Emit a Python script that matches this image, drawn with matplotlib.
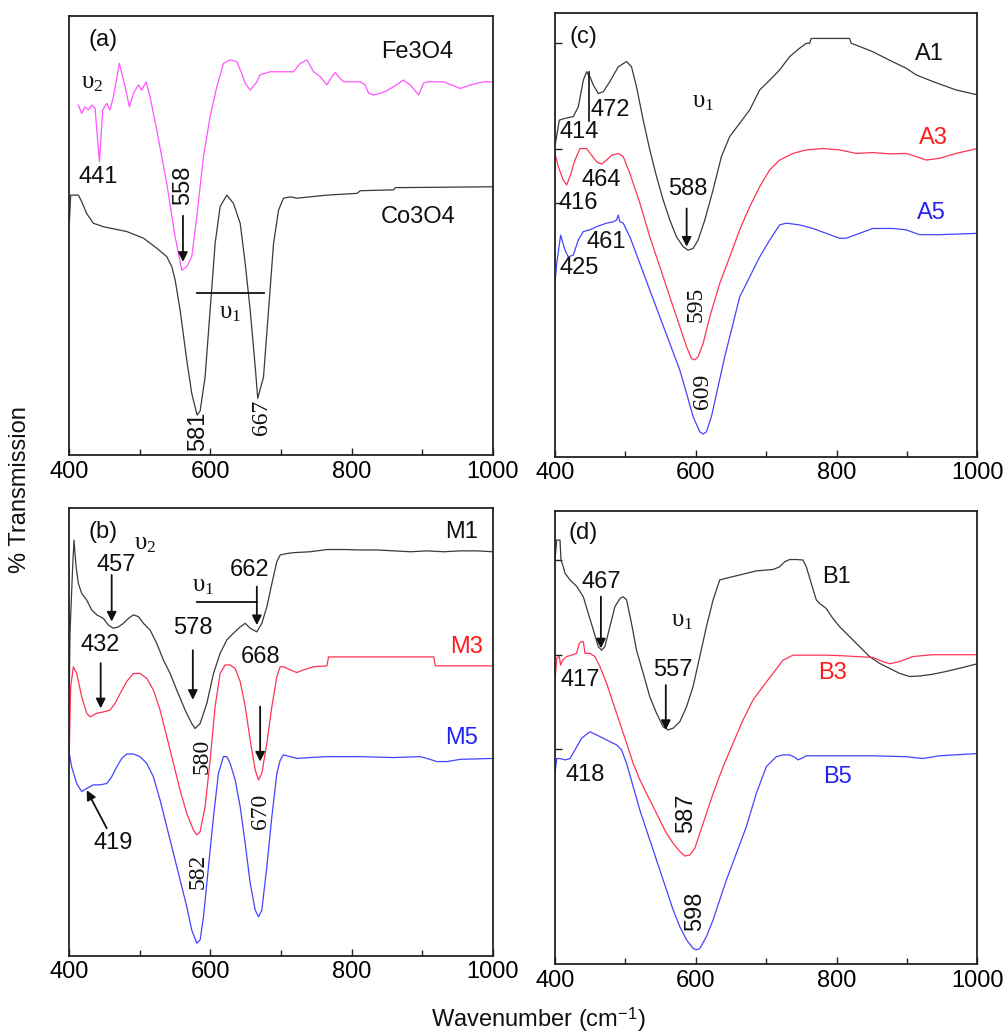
import matplotlib
matplotlib.use("Agg")
import matplotlib.pyplot as plt

plt.rcParams['font.family'] = ['Liberation Sans', 'DejaVu Sans']
plt.rcParams['mathtext.fontset'] = 'custom'
plt.rcParams['mathtext.rm'] = 'Liberation Serif'
plt.rcParams['mathtext.it'] = 'Liberation Serif:italic'
plt.rcParams['mathtext.sf'] = 'Liberation Sans'

# ---------------- data (wavenumber cm-1, % transmission, arbitrary offset) -------------
fe3o4_wn = [412.8, 417.5, 422.2, 427, 431.7, 436.4, 442.6, 447.3, 453, 457.7, 462.4, 470.9, 479,
            485.1, 490.8, 497.9, 502.6, 508.7, 514.4, 523.9, 538, 549.9, 559.3, 566.4, 573.5,
            580.6, 590.1, 599.5, 609, 618.4, 627.9, 637.3, 644.4, 649.2, 656.3, 665.7, 670.4,
            684.6, 717.7, 727.2, 736.6, 746.1, 755.5, 765, 772.1, 776.8, 781.6, 788.7, 812.3,
            819.4, 824.1, 831.2, 840.7, 847.7, 859.6, 873.7, 883.2, 895, 902.1, 906.8, 930.5,
            954.1, 968.3, 987.2, 1000]
fe3o4_t = [79.7, 77.8, 79.3, 78.6, 79.7, 79.0, 66.8, 78.6, 80.1, 78.6, 81.6, 89.2, 83.9,
           79.3, 82.4, 84.3, 83.1, 85.0, 81.6, 74.0, 61.9, 49.7, 42.1, 42.9, 45.2,
           54.3, 68.0, 77.1, 83.9, 89.2, 90.0, 89.6, 86.9, 84.7, 83.1, 85.0, 86.6,
           87.3, 87.3, 89.2, 90.0, 87.3, 86.2, 84.3, 86.2, 87.1, 86.2, 85.0, 85.0,
           84.3, 82.4, 82.0, 82.4, 82.8, 83.9, 85.4, 84.3, 82.0, 84.7, 85.0, 85.0,
           83.5, 84.3, 85.0, 85.0]

co3o4_wn = [400, 401.9, 412.8, 417.5, 424.6, 434, 448.2, 481.3, 505, 523.9, 538, 545.2, 549.9,
            557, 566.4, 573.5, 581, 585.3, 592.4, 599.5, 606.6, 613.7, 623.2, 632.6, 642.1,
            649.2, 656.3, 663.4, 667, 675.2, 682.3, 689.4, 696.5, 703.5, 713, 722.4, 765,
            807.6, 812.3, 859.6, 861.9, 1000]
co3o4_t = [53.0, 59.2, 59.2, 57.7, 55.0, 52.8, 52.0, 50.9, 49.4, 47.1, 45.2, 42.9, 39.9,
           33.0, 21.6, 14.0, 9.1, 10.0, 17.8, 33.0, 48.2, 56.6, 59.2, 57.3, 52.8,
           43.7, 33.0, 20.1, 12.9, 17.8, 33.0, 48.2, 55.8, 58.5, 58.8, 58.5, 59.2,
           59.6, 60.2, 60.4, 60.9, 61.1]

a1_wn = [400, 406.1, 414.2, 426, 433.1, 440.2, 444.9, 447.3, 449.6, 454.4, 461.5, 468.6, 478,
         489.8, 501.7, 508.7, 515.8, 525.3, 534.7, 544.2, 553.7, 563.1, 572.6, 582, 589.1,
         596.2, 603.3, 612.8, 624.6, 636.4, 648.2, 662.4, 676.6, 690.8, 705, 719.1, 733.3,
         747.5, 757, 761.7, 764, 818.4, 820.8, 827.9, 851.5, 875.2, 898.8, 913, 936.6,
         969.7, 1000]
a1_t = [70.0, 75.8, 76.2, 76.6, 78.8, 84.8, 86.7, 86.0, 85.6, 83.7, 81.8, 82.2, 84.5,
        87.8, 89.0, 87.8, 83.3, 75.8, 69.1, 63.1, 57.8, 53.3, 49.5, 47.3, 46.5,
        46.9, 48.8, 53.3, 60.1, 67.6, 72.1, 75.1, 78.1, 82.6, 84.8, 87.1, 90.1,
        92.0, 93.1, 93.1, 94.2, 94.2, 93.1, 92.7, 91.2, 89.3, 87.5, 86.0, 84.5,
        82.6, 81.5]

a3_wn = [400, 404.7, 411.8, 416.5, 421.3, 428.4, 435.5, 444.9, 452, 459.1, 466.2, 473.3,
         480.4, 489.8, 496.9, 506.4, 520.6, 534.7, 548.9, 563.1, 577.3, 586.8, 593.8, 598.6,
         603.3, 610.4, 619.9, 634, 648.2, 662.4, 676.6, 690.8, 705, 719.1, 738, 757, 780.6,
         804.2, 827.9, 851.5, 875.2, 898.8, 913, 927.2, 946.1, 969.7, 1000]
a3_t = [68.3, 65.3, 62.3, 61.2, 63.1, 66.8, 69.4, 69.4, 67.9, 66.4, 65.9, 66.8,
        67.9, 68.3, 67.6, 63.8, 57.1, 49.5, 42.8, 36.0, 29.3, 24.8, 22.1, 21.8,
        22.5, 25.5, 31.5, 39.0, 45.0, 51.1, 56.3, 60.8, 64.6, 66.8, 68.3, 69.1, 69.4,
        69.1, 68.3, 68.5, 68.2, 68.3, 67.6, 66.8, 67.2, 68.3, 69.4]

a5_wn = [400, 402.4, 408, 414.2, 418.9, 426, 433.1, 440.2, 449.6, 459.1, 473.3, 482.7, 487.5,
         489.8, 492.2, 496.9, 506.4, 520.6, 534.7, 548.9, 563.1, 577.3, 586.8, 596.2, 605.7,
         610.4, 615.1, 622.2, 631.7, 641.1, 650.6, 662.4, 671.9, 681.3, 690.8, 705, 719.1,
         728.6, 747.5, 766.4, 785.3, 804.2, 813.7, 832.6, 851.5, 879.9, 898.8, 917.7, 946.1,
         1000]
a5_t = [39.0, 43.5, 49.9, 46.5, 45.0, 45.4, 48.8, 50.7, 51.1, 51.8, 52.6, 52.9, 53.3,
        54.4, 52.9, 52.6, 49.5, 43.5, 37.5, 31.5, 25.5, 19.5, 14.3, 9.0, 5.6,
        5.1, 5.6, 9.0, 15.8, 22.5, 28.5, 36.0, 39.0, 42.0, 45.0, 48.8, 52.2,
        52.6, 52.2, 51.4, 50.3, 49.2, 49.2, 50.3, 51.4, 51.4, 51.1, 50.0, 50.0,
        50.3]

m1_wn = [400, 400.9, 404.7, 406.6, 409.5, 412.8, 417.5, 424.6, 431.7, 438.8, 448.2, 455.3,
         462.4, 469.5, 476.6, 483.7, 490.8, 497.9, 505, 514.4, 523.9, 533.3, 542.8, 552.2,
         564.1, 573.5, 578.2, 585.3, 594.8, 604.3, 613.7, 623.2, 632.6, 642.1, 649.2, 656.3,
         665.7, 672.8, 679.9, 687, 694.1, 698.8, 708.3, 717.7, 741.4, 765, 788.7, 812.3,
         835.9, 859.6, 883.2, 906.8, 930.5, 954.1, 977.8, 1000]
m1_t = [60.0, 72.1, 87.0, 92.9, 87.0, 83.2, 81.0, 79.5, 77.3, 76.2, 75.4, 73.9,
        73.2, 73.5, 74.3, 75.4, 76.2, 75.8, 74.3, 72.8, 69.8, 66.1, 63.1, 59.4,
        54.9, 51.9, 50.8, 51.9, 56.4, 63.1, 67.6, 70.6, 72.1, 73.5, 74.3, 73.2,
        72.4, 74.3, 78.0, 83.2, 88.1, 89.6, 89.9, 90.1, 90.3, 90.8, 90.8, 90.7,
        90.7, 90.5, 90.3, 90.5, 90.3, 90.5, 90.5, 90.3]

m3_wn = [400, 401.9, 405.7, 410.4, 417.5, 424.6, 429.3, 438.8, 448.2, 457.7, 464.8, 471.9,
         481.3, 490.8, 500.2, 509.7, 519.1, 528.6, 538.1, 547.5, 557, 566.4, 575.9, 580.6,
         585.3, 592.4, 599.5, 606.6, 613.7, 620.8, 627.9, 635, 642.1, 649.2, 656.3, 663.4,
         668.1, 672.8, 679.9, 687, 694.1, 698.8, 703.5, 713, 722.4, 731.9, 746.1, 765,
         767.4, 769.7, 916.3, 918.7, 1000]
m3_t = [46.7, 60.1, 64.6, 63.1, 57.9, 54.2, 53.4, 54.2, 54.5, 54.9, 56.4, 58.6,
        61.3, 63.1, 63.1, 62.0, 59.4, 54.9, 49.0, 43.0, 37.0, 31.8, 28.1, 27.0,
        27.7, 33.3, 43.7, 55.7, 63.1, 65.0, 65.0, 64.2, 61.3, 55.7, 48.2, 41.5,
        39.3, 40.8, 47.5, 55.7, 62.4, 64.6, 64.6, 63.9, 63.3, 63.9, 64.6, 64.8,
        66.8, 66.8, 66.8, 64.8, 64.8]

m5_wn = [400, 403.3, 410.4, 417.5, 424.6, 434, 443.5, 453, 460, 467.1, 474.2, 481.3, 490.8,
         500.2, 509.7, 519.1, 528.6, 538.1, 547.5, 557, 566.4, 573.5, 580.6, 585.3, 590.1,
         597.2, 604.3, 611.3, 618.4, 623.2, 627.9, 635, 642.1, 649.2, 656.3, 663.4, 668.1,
         672.8, 679.9, 687, 694.1, 698.8, 703.5, 713, 722.4, 741.4, 765, 812.3, 859.6,
         897.4, 906.8, 921, 935.2, 954.1, 1000]
m5_t = [45.2, 42.2, 38.5, 36.7, 37.4, 38.2, 38.2, 38.5, 40.0, 42.2, 44.1, 45.1, 45.1,
        44.5, 43.0, 40.0, 34.8, 28.8, 22.9, 16.9, 11.0, 5.7, 2.8, 3.5, 8.7,
        19.9, 31.1, 40.8, 44.5, 44.5, 43.0, 39.3, 33.3, 25.1, 16.2, 10.2, 8.7,
        10.2, 19.9, 31.1, 40.8, 43.7, 44.9, 44.5, 44.1, 44.3, 44.5, 44.5, 44.3,
        44.5, 44.1, 43.4, 43.4, 43.9, 44.1]

b1_wn = [400, 402.4, 407.1, 408.5, 411.8, 414.2, 421.3, 430.7, 440.2, 447.3, 454.4, 461.5,
         466.2, 470.9, 478, 485.1, 492.2, 496.9, 501.7, 508.7, 515.8, 525.3, 534.7, 544.2,
         553.7, 560.8, 567.8, 577.3, 586.8, 596.2, 605.7, 615.1, 624.6, 634, 641.1, 662.4,
         686, 709.7, 719.1, 726.2, 733.3, 742.8, 752.2, 757, 764.1, 771.2, 775.9, 785.3,
         794.8, 804.2, 818.4, 832.6, 846.8, 861, 875.2, 889.4, 903.5, 917.7, 936.6, 955.5,
         974.4, 1000]
b1_t = [89.2, 93.6, 93.6, 89.2, 87.7, 86.3, 84.8, 83.4, 81.1, 77.4, 73.8, 70.1,
        69.3, 70.1, 74.5, 78.9, 80.7, 81.1, 80.4, 75.2, 69.3, 64.2, 59.0, 55.4,
        52.4, 51.7, 52.1, 53.5, 56.8, 61.3, 67.9, 74.5, 80.4, 84.8, 85.1, 85.9,
        86.8, 87.1, 87.7, 88.8, 89.3, 89.3, 89.2, 87.7, 84.0, 80.4, 79.6, 78.5,
        76.3, 74.5, 72.3, 70.1, 67.9, 66.4, 65.3, 64.2, 63.5, 63.6, 64.0, 64.6,
        65.3, 66.3]

b3_wn = [400, 402.4, 406.1, 408, 410.9, 416.5, 423.6, 430.7, 434.5, 437.8, 440.2, 442.6,
         449.6, 456.7, 463.8, 473.3, 482.7, 492.2, 501.7, 511.1, 520.6, 530, 539.5, 548.9,
         558.4, 567.8, 577.3, 584.4, 591.5, 598.6, 605.7, 615.1, 624.6, 638.8, 653, 667.1,
         681.3, 695.5, 709.7, 723.9, 738, 757, 785.3, 804.2, 827.9, 851.5, 865.7, 875.2,
         889.4, 908.3, 936.6, 969.7, 1000]
b3_t = [62.4, 67.5, 67.9, 66.0, 67.1, 67.9, 68.2, 68.6, 70.8, 71.2, 71.2, 68.6,
        68.6, 67.9, 65.7, 62.0, 57.6, 53.2, 48.8, 44.3, 40.7, 37.7, 34.8, 31.8,
        28.9, 26.7, 24.9, 23.9, 24.1, 25.6, 28.9, 33.3, 37.7, 43.6, 48.8, 53.9,
        58.3, 61.3, 64.2, 67.1, 68.2, 68.2, 68.2, 68.1, 67.9, 67.7, 66.8, 66.3,
        66.8, 67.9, 68.3, 68.3, 68.3]

b5_wn = [400, 402.4, 407.1, 414.2, 421.3, 428.4, 437.8, 449.6, 459.1, 473.3, 487.5, 494.6,
         501.7, 511.1, 520.6, 530, 539.5, 548.9, 558.4, 567.8, 577.3, 586.8, 596.2, 600.9,
         605.7, 615.1, 624.6, 634, 643.5, 657.7, 671.9, 686, 700.2, 714.4, 723.9, 733.3,
         740.4, 745.1, 749.9, 757, 780.6, 804.2, 851.5, 898.8, 922.4, 946.1, 1000]
b5_t = [42.1, 45.4, 45.4, 45.1, 45.4, 47.3, 49.9, 51.3, 50.6, 49.5, 48.4, 47.3,
        44.3, 39.2, 34.0, 29.6, 25.2, 20.8, 16.4, 12.0, 8.3, 5.4, 3.5, 3.2,
        3.5, 6.1, 9.8, 14.2, 18.6, 24.5, 30.4, 37.7, 43.6, 45.8, 46.2, 46.2,
        45.7, 45.1, 45.4, 46.0, 46.0, 46.0, 46.0, 45.8, 45.4, 46.0, 46.5]

x_ticks = [400, 600, 800, 1000]
x_minor = [500, 700, 900]

# ---------------- styling ----------------
BLACK = '#3a3a3a'
MAG = '#ff55ff'
RED = '#ff3355'
BLUE = '#4444ff'
RED_T = '#ff1a1a'
BLUE_T = '#2222ee'
LW = 0.9
FS = 17
SERIF = ['Liberation Serif', 'DejaVu Serif']

fig = plt.figure(figsize=(10.08, 10.32), dpi=100)
ax_a = fig.add_axes([0.0688, 0.5591, 0.4200, 0.4254])
ax_c = fig.add_axes([0.5506, 0.5575, 0.4190, 0.4302])
ax_b = fig.add_axes([0.0688, 0.0739, 0.4200, 0.4335])
ax_d = fig.add_axes([0.5506, 0.0656, 0.4190, 0.4392])


def style(ax, yticks=()):
    ax.set_xlim(400, 1000)
    ax.set_ylim(0, 100)
    ax.set_xticks(x_ticks)
    ax.set_xticks(x_minor, minor=True)
    ax.set_yticks(list(yticks))
    ax.set_yticklabels([])
    ax.tick_params(axis='both', which='both', direction='in', top=False, right=False,
                   labelsize=17, width=1.0, color='#222222', pad=4)
    ax.tick_params(axis='both', which='major', length=5)
    ax.tick_params(axis='both', which='minor', length=4)
    for s in ax.spines.values():
        s.set_linewidth(1.3)
        s.set_color('#222222')


def txt(ax, x, y, s, color='#111111', size=FS, rot=0, family=None):
    kw = {}
    if family is not None:
        kw['family'] = family
    ax.text(x, y, s, color=color, fontsize=size, rotation=rot, ha='center', va='center', **kw)


def arrow(ax, x0, y0, x1, y1):
    ax.annotate('', xy=(x1, y1), xytext=(x0, y0),
                arrowprops=dict(arrowstyle='-|>', color='#111111', lw=1.3, mutation_scale=14,
                                shrinkA=0, shrinkB=0))


def upsilon(ax, x, y, sub):
    ax.text(x, y, r'$\mathrm{υ}_{%s}$' % sub, fontsize=18, ha='center', va='center',
            color='#111111')


# ---- (a)
style(ax_a)
ax_a.plot(fe3o4_wn, fe3o4_t, color=MAG, lw=LW)
ax_a.plot(co3o4_wn, co3o4_t, color=BLACK, lw=LW)
txt(ax_a, 448, 94.5, '(a)')
txt(ax_a, 893, 91.9, 'Fe3O4')
txt(ax_a, 895, 54.3, 'Co3O4')
upsilon(ax_a, 432, 85.0, '2')
txt(ax_a, 441, 63.4, '441')
txt(ax_a, 561, 61.5, '558', rot=90)
arrow(ax_a, 561, 54.5, 561, 44.0)
ax_a.plot([580.6, 675.2], [37.0, 37.0], color='#111111', lw=1.3)
upsilon(ax_a, 628, 32.6, '1')
txt(ax_a, 583, 5.3, '581', rot=90)
txt(ax_a, 673, 8.5, '667', rot=90, family=SERIF)

# ---- (c)
style(ax_c, yticks=[57.1, 69.4, 93.1])
ax_c.plot(a1_wn, a1_t, color=BLACK, lw=LW)
ax_c.plot(a3_wn, a3_t, color=RED, lw=LW)
ax_c.plot(a5_wn, a5_t, color=BLUE, lw=LW)
txt(ax_c, 440, 94.6, '(c)')
txt(ax_c, 932, 90.8, 'A1')
txt(ax_c, 937, 71.7, 'A3', color=RED_T)
txt(ax_c, 934, 54.8, 'A5', color=BLUE_T)
ax_c.plot([448.7, 448.7], [75.5, 86.7], color='#111111', lw=1.2)
txt(ax_c, 478, 78.1, '472')
txt(ax_c, 435, 73.2, '414')
upsilon(ax_c, 610, 80.0, '1')
txt(ax_c, 466, 62.3, '464')
txt(ax_c, 433, 57.2, '416')
txt(ax_c, 589, 60.4, '588')
arrow(ax_c, 587, 55.9, 587, 47.3)
txt(ax_c, 473, 48.4, '461')
txt(ax_c, 434.5, 42.4, '425')
txt(ax_c, 601, 34.2, '595', rot=90, family=SERIF)
txt(ax_c, 610, 14.6, '609', rot=90, family=SERIF)

# ---- (b)
style(ax_b)
ax_b.plot(m1_wn, m1_t, color=BLACK, lw=LW)
ax_b.plot(m3_wn, m3_t, color=RED, lw=LW)
ax_b.plot(m5_wn, m5_t, color=BLUE, lw=LW)
txt(ax_b, 448, 94.8, '(b)')
upsilon(ax_b, 507, 92.3, '2')
txt(ax_b, 956.5, 94.8, 'M1')
txt(ax_b, 467, 87.3, '457')
arrow(ax_b, 460, 85.1, 460, 74.7)
upsilon(ax_b, 590, 82.9, '1')
ax_b.plot([580.6, 665.7], [79.1, 79.1], color='#111111', lw=1.3)
txt(ax_b, 656, 86.2, '662')
arrow(ax_b, 665.7, 82.5, 665.7, 73.9)
txt(ax_b, 575, 73.2, '578')
arrow(ax_b, 575, 68.3, 575, 57.2)
txt(ax_b, 443.5, 69.4, '432')
arrow(ax_b, 444.4, 65.4, 444.4, 55.3)
txt(ax_b, 963.6, 69.1, 'M3', color=RED_T)
txt(ax_b, 670.4, 66.8, '668')
arrow(ax_b, 670.4, 55.7, 670.4, 43.4)
txt(ax_b, 587.7, 44.5, '580', rot=90, family=SERIF)
txt(ax_b, 956.5, 48.6, 'M5', color=BLUE_T)
txt(ax_b, 670.4, 32.2, '670', rot=90, family=SERIF)
txt(ax_b, 462.4, 25.1, '419')
arrow(ax_b, 453, 28.5, 424.6, 37.0)
txt(ax_b, 583, 18.8, '582', rot=90, family=SERIF)

# ---- (d)
style(ax_d, yticks=[47.4, 68.2, 89.2])
ax_d.plot(b1_wn, b1_t, color=BLACK, lw=LW)
ax_d.plot(b3_wn, b3_t, color=RED, lw=LW)
ax_d.plot(b5_wn, b5_t, color=BLUE, lw=LW)
txt(ax_d, 440, 95.1, '(d)')
txt(ax_d, 466, 84.4, '467')
arrow(ax_d, 465.2, 81.1, 465.2, 69.7)
upsilon(ax_d, 580, 76.0, '1')
txt(ax_d, 799.5, 85.5, 'B1')
txt(ax_d, 435.5, 62.7, '417')
txt(ax_d, 567, 64.9, '557')
arrow(ax_d, 557.4, 61.6, 557.4, 51.7)
txt(ax_d, 794.8, 64.2, 'B3', color=RED_T)
txt(ax_d, 442.6, 41.8, '418')
txt(ax_d, 802, 41.4, 'B5', color=BLUE_T)
txt(ax_d, 586.8, 33.3, '587', rot=90)
txt(ax_d, 598.6, 11.6, '598', rot=90)

fig.text(0.534, 0.0125, r'Wavenumber (cm$^{\mathsf{-1}}$)', fontsize=17, ha='center',
         va='center', color='#111111')
fig.text(0.0195, 0.526, '% Transmission', fontsize=17, rotation=90, ha='center', va='center',
         color='#111111')

fig.savefig('out.png', dpi=100)
